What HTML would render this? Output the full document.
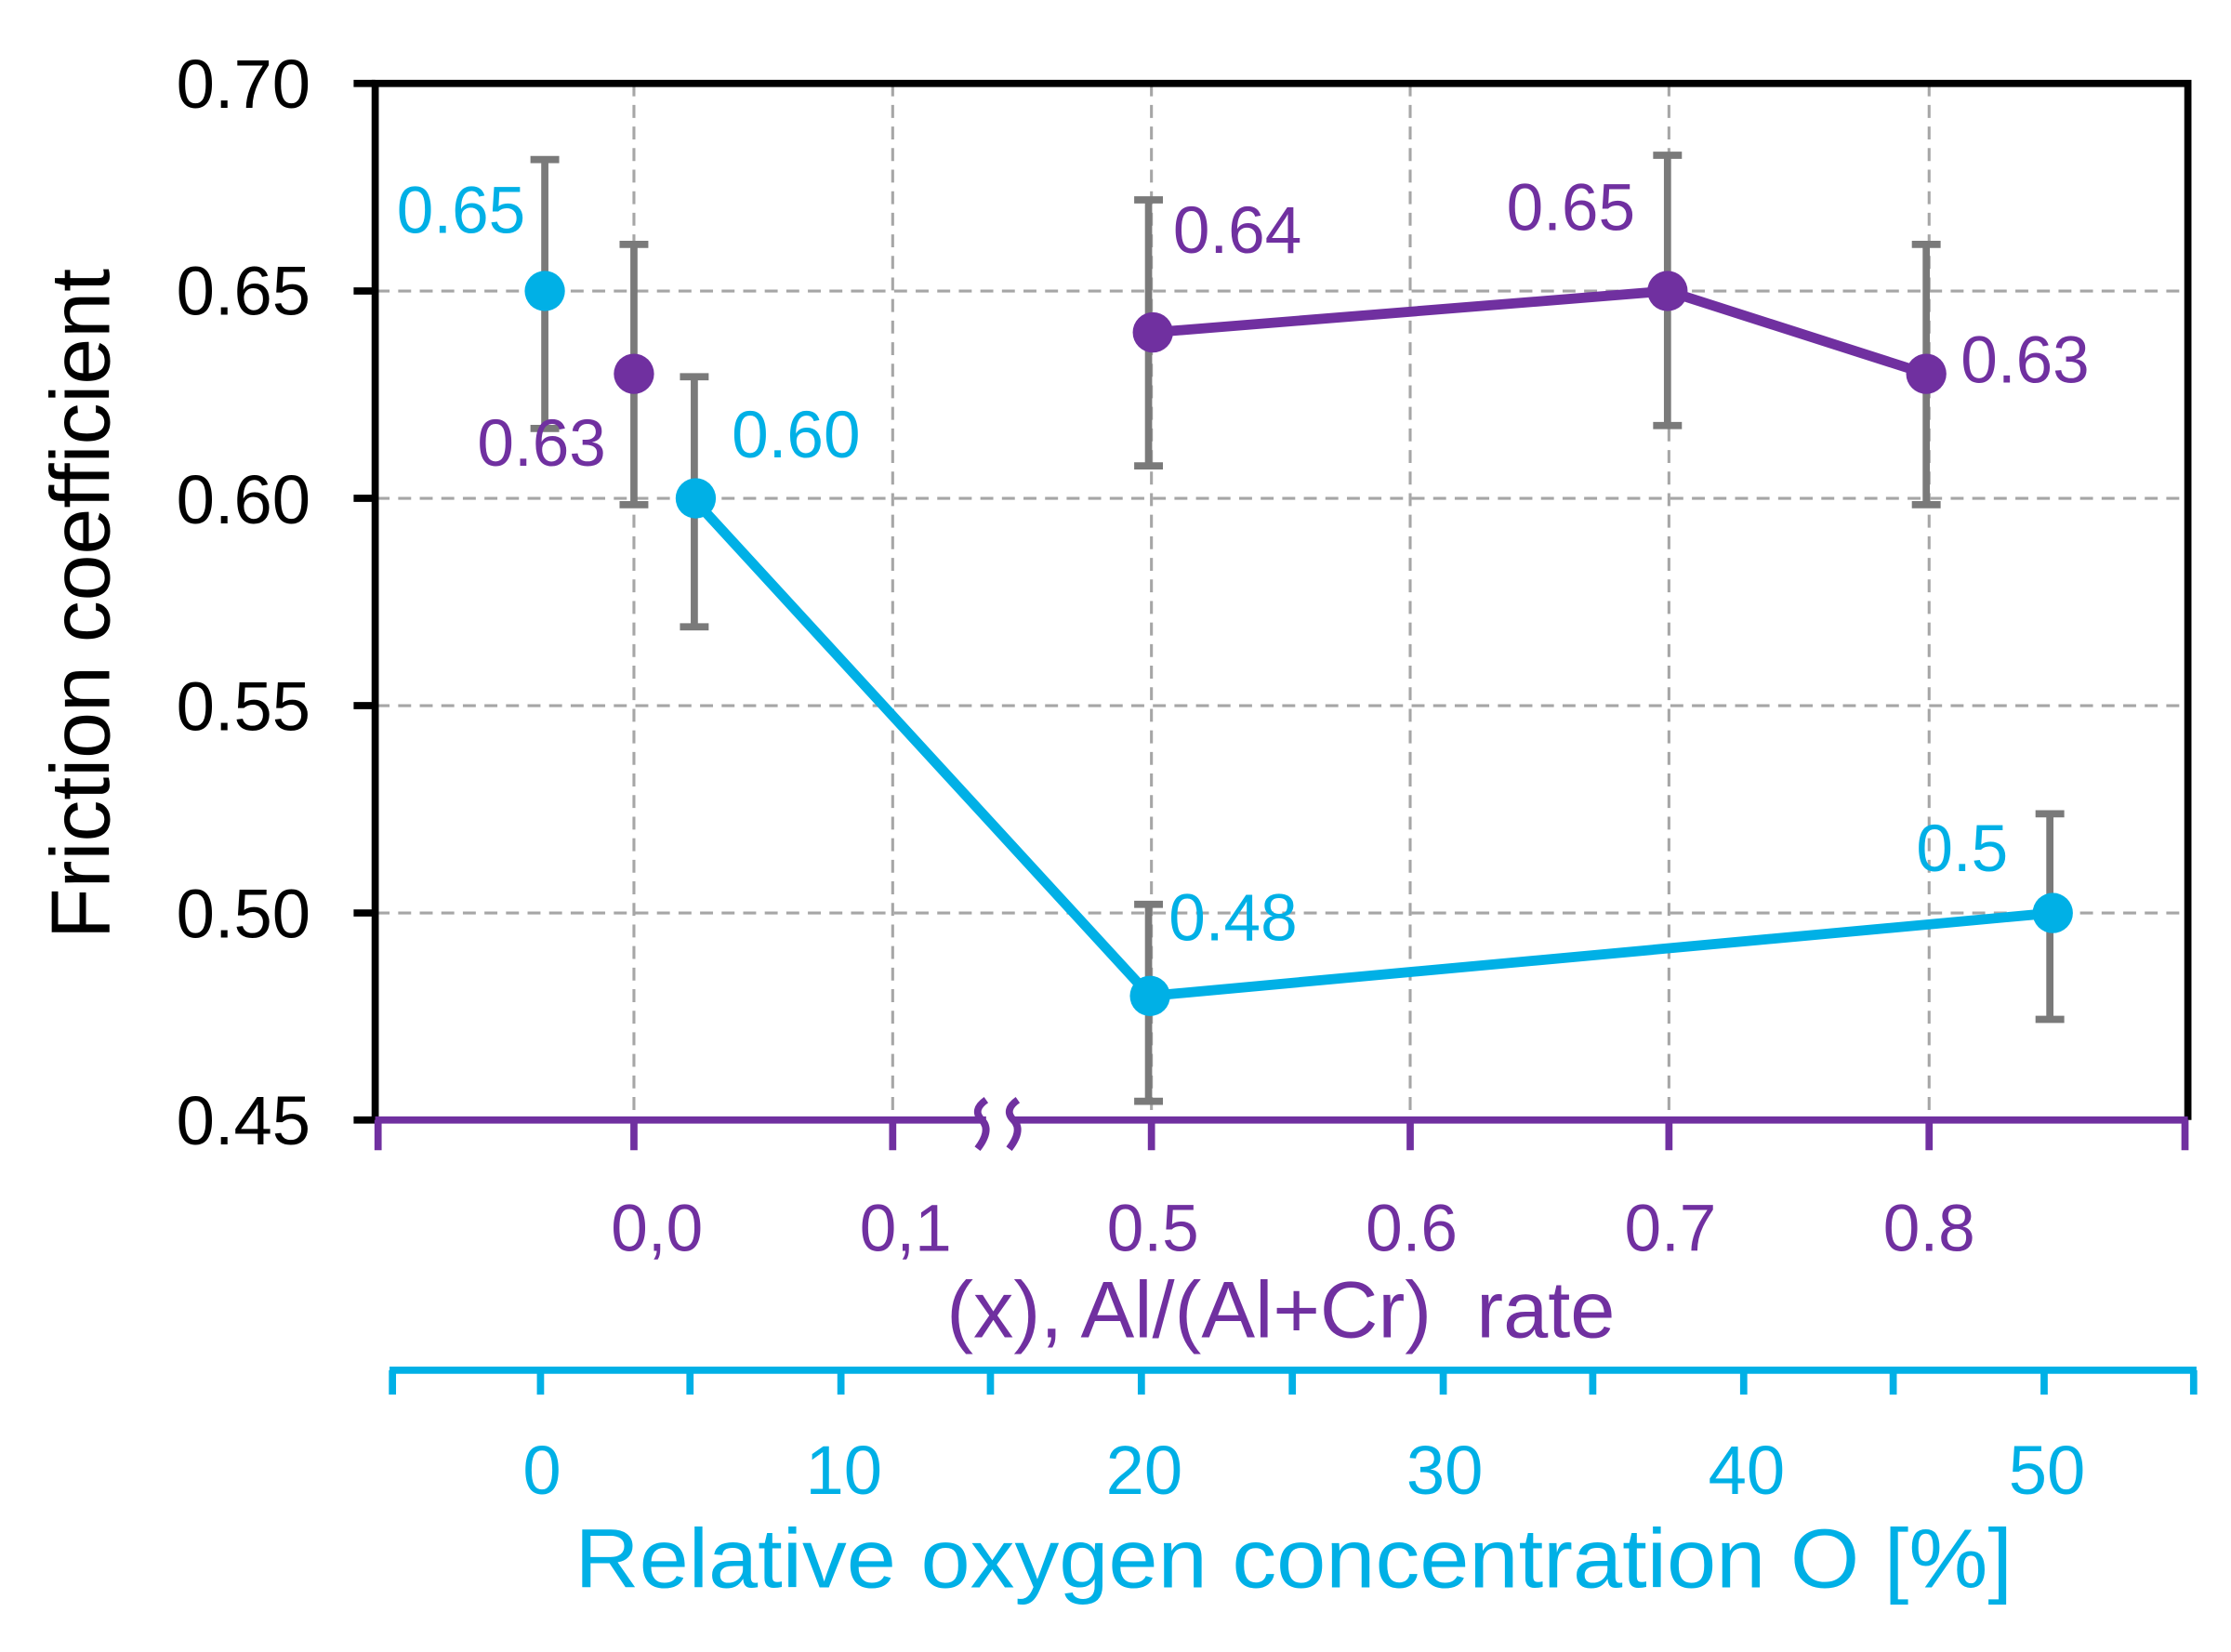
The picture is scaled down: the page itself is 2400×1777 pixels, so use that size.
<!DOCTYPE html>
<html><head><meta charset="utf-8"><style>html,body{margin:0;padding:0;background:#fff}svg{display:block}</style></head>
<body>
<svg width="2400" height="1777" viewBox="0 0 1552 1149" preserveAspectRatio="none" xmlns="http://www.w3.org/2000/svg" font-family="Liberation Sans, Arial, sans-serif">
<rect width="1552" height="1149" fill="#fff"/>
<g stroke="#a6a6a6" stroke-width="2" stroke-dasharray="9,6">
<line x1="262" y1="202.4" x2="1522" y2="202.4"/>
<line x1="262" y1="346.6" x2="1522" y2="346.6"/>
<line x1="262" y1="490.8" x2="1522" y2="490.8"/>
<line x1="262" y1="635" x2="1522" y2="635"/>
<line x1="441" y1="58" x2="441" y2="779"/>
<line x1="621" y1="58" x2="621" y2="779"/>
<line x1="801" y1="58" x2="801" y2="779"/>
<line x1="981" y1="58" x2="981" y2="779"/>
<line x1="1161" y1="58" x2="1161" y2="779"/>
<line x1="1342" y1="58" x2="1342" y2="779"/>
</g>
<g stroke="#000" stroke-width="5" fill="none">
<polyline points="261,779 261,58 1522,58 1522,779"/>
<line x1="246" y1="58" x2="261" y2="58"/>
<line x1="246" y1="202.4" x2="261" y2="202.4"/>
<line x1="246" y1="346.6" x2="261" y2="346.6"/>
<line x1="246" y1="490.8" x2="261" y2="490.8"/>
<line x1="246" y1="635" x2="261" y2="635"/>
<line x1="246" y1="779" x2="261" y2="779"/>
</g>
<g font-size="48" fill="#000" text-anchor="end">
<text x="216" y="75">0.70</text>
<text x="216" y="219">0.65</text>
<text x="216" y="364">0.60</text>
<text x="216" y="508">0.55</text>
<text x="216" y="652">0.50</text>
<text x="216" y="796">0.45</text>
</g>
<text transform="translate(76,420) rotate(-90)" font-size="58" text-anchor="middle" fill="#000">Friction coefficient</text>
<g stroke="#7030a0" stroke-width="5" fill="none">
<line x1="261" y1="779" x2="686" y2="779"/>
<line x1="706" y1="779" x2="1522" y2="779"/>
<line x1="263" y1="779" x2="263" y2="800"/>
<line x1="441" y1="779" x2="441" y2="800"/>
<line x1="621" y1="779" x2="621" y2="800"/>
<line x1="801" y1="779" x2="801" y2="800"/>
<line x1="981" y1="779" x2="981" y2="800"/>
<line x1="1161" y1="779" x2="1161" y2="800"/>
<line x1="1342" y1="779" x2="1342" y2="800"/>
<line x1="1520" y1="779" x2="1520" y2="800"/>
<path d="M686,765 q-10,7 -3,14 q7,7 -3,20"/>
<path d="M708,765 q-10,7 -3,14 q7,7 -3,20"/>
</g>
<g font-size="46" fill="#7030a0" text-anchor="middle">
<text x="457" y="870">0,0</text>
<text x="630" y="870">0,1</text>
<text x="802" y="870">0.5</text>
<text x="982" y="870">0.6</text>
<text x="1162" y="870">0.7</text>
<text x="1342" y="870">0.8</text>
</g>
<text x="891" y="930" font-size="56" fill="#7030a0" text-anchor="middle" xml:space="preserve">(x), Al/(Al+Cr)  rate</text>
<g stroke="#00b0e6" stroke-width="5">
<line x1="271" y1="953" x2="1528" y2="953"/>
<line x1="273" y1="953" x2="273" y2="970"/>
<line x1="376" y1="953" x2="376" y2="970"/>
<line x1="480" y1="953" x2="480" y2="970"/>
<line x1="585" y1="953" x2="585" y2="970"/>
<line x1="689" y1="953" x2="689" y2="970"/>
<line x1="794" y1="953" x2="794" y2="970"/>
<line x1="899" y1="953" x2="899" y2="970"/>
<line x1="1004" y1="953" x2="1004" y2="970"/>
<line x1="1108" y1="953" x2="1108" y2="970"/>
<line x1="1213" y1="953" x2="1213" y2="970"/>
<line x1="1317" y1="953" x2="1317" y2="970"/>
<line x1="1422" y1="953" x2="1422" y2="970"/>
<line x1="1526" y1="953" x2="1526" y2="970"/>
</g>
<g font-size="48" fill="#00b0e6" text-anchor="middle">
<text x="377" y="1039">0</text>
<text x="587" y="1039">10</text>
<text x="796" y="1039">20</text>
<text x="1005" y="1039">30</text>
<text x="1215" y="1039">40</text>
<text x="1424" y="1039">50</text>
</g>
<text x="900" y="1104" font-size="58" fill="#00b0e6" text-anchor="middle" textLength="1000" lengthAdjust="spacingAndGlyphs">Relative oxygen concentration O [%]</text>
<polyline points="482,346.6 800,692.7 1428,635" fill="none" stroke="#00b0e6" stroke-width="7"/>
<polyline points="802,231.2 1160,202.4 1340,260" fill="none" stroke="#7030a0" stroke-width="7"/>
<g stroke="#7a7a7a" stroke-width="5">
<line x1="379" y1="111" x2="379" y2="298"/><line x1="369" y1="111" x2="389" y2="111"/><line x1="369" y1="298" x2="389" y2="298"/>
<line x1="441" y1="170" x2="441" y2="351"/><line x1="431" y1="170" x2="451" y2="170"/><line x1="431" y1="351" x2="451" y2="351"/>
<line x1="483" y1="262" x2="483" y2="436"/><line x1="473" y1="262" x2="493" y2="262"/><line x1="473" y1="436" x2="493" y2="436"/>
<line x1="799" y1="139" x2="799" y2="324"/><line x1="789" y1="139" x2="809" y2="139"/><line x1="789" y1="324" x2="809" y2="324"/>
<line x1="799" y1="629" x2="799" y2="766"/><line x1="789" y1="629" x2="809" y2="629"/><line x1="789" y1="766" x2="809" y2="766"/>
<line x1="1160" y1="108" x2="1160" y2="296"/><line x1="1150" y1="108" x2="1170" y2="108"/><line x1="1150" y1="296" x2="1170" y2="296"/>
<line x1="1340" y1="170" x2="1340" y2="351"/><line x1="1330" y1="170" x2="1350" y2="170"/><line x1="1330" y1="351" x2="1350" y2="351"/>
<line x1="1426" y1="566" x2="1426" y2="709"/><line x1="1416" y1="566" x2="1436" y2="566"/><line x1="1416" y1="709" x2="1436" y2="709"/>
</g>
<g fill="#00b0e6">
<circle cx="379" cy="202.4" r="14"/>
<circle cx="484" cy="346.6" r="14"/>
<circle cx="800" cy="692.7" r="14"/>
<circle cx="1428" cy="635" r="14"/>
</g>
<g fill="#7030a0">
<circle cx="441" cy="260" r="14"/>
<circle cx="802" cy="231.2" r="14"/>
<circle cx="1160" cy="202.4" r="14"/>
<circle cx="1340" cy="260" r="14"/>
</g>
<g font-size="46">
<text x="276" y="162" fill="#00b0e6">0.65</text>
<text x="509" y="318" fill="#00b0e6">0.60</text>
<text x="813" y="654" fill="#00b0e6">0.48</text>
<text x="1333" y="606" fill="#00b0e6">0.5</text>
<text x="332" y="324" fill="#7030a0">0.63</text>
<text x="816" y="176" fill="#7030a0">0.64</text>
<text x="1048" y="160" fill="#7030a0">0.65</text>
<text x="1364" y="266" fill="#7030a0">0.63</text>
</g>
</svg>
</body></html>
